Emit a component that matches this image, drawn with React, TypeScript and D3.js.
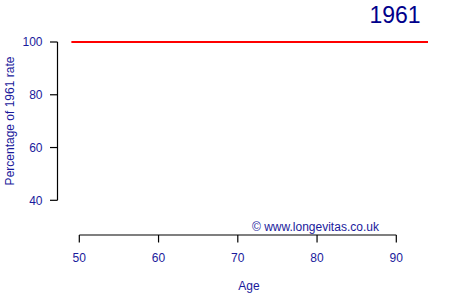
import React from "react";
import * as d3 from "d3";

const ages: number[] = [49, 94];
const values: number[] = [100, 100];
const xTicks: number[] = [50, 60, 70, 80, 90];
const yTicks: number[] = [40, 60, 80, 100];
const title = "1961";
const xLabel = "Age";
const yLabel = "Percentage of 1961 rate";
const credit = "© www.longevitas.co.uk";

const W = 450, H = 300;
const FONT = "'Liberation Sans', Arial, sans-serif";
const TXT = "#1a1a9c";

export default function App() {
  const x = d3.scaleLinear().domain([50, 90]).range([79.3, 396.3]);
  const y = d3.scaleLinear().domain([40, 100]).range([200.3, 42]);
  const line = d3.line<number>().x((_, i) => x(ages[i])).y((d) => y(d));
  const axisY = 235;
  const axisX = 57.5;
  return (
    <svg width={W} height={H} style={{ position: "absolute", left: 0, top: 0 }} fontFamily={FONT}>
      <rect width={W} height={H} fill="white" />
      <text x={395} y={23} fontSize={23} fill="#00008B" textAnchor="middle">{title}</text>
      {/* y axis */}
      <line x1={axisX} x2={axisX} y1={y(100)} y2={y(40)} stroke="black" strokeWidth={1.2} />
      {yTicks.map((t) => (
        <g key={t}>
          <line x1={axisX - 7.5} x2={axisX} y1={y(t)} y2={y(t)} stroke="black" strokeWidth={1.2} />
          <text x={42.5} y={y(t) + 4.3} fontSize={12} fill={TXT} textAnchor="end">{t}</text>
        </g>
      ))}
      {/* x axis */}
      <line x1={x(50)} x2={x(90)} y1={axisY} y2={axisY} stroke="black" strokeWidth={1.2} />
      {xTicks.map((t) => (
        <g key={t}>
          <line x1={x(t)} x2={x(t)} y1={axisY} y2={axisY + 7.5} stroke="black" strokeWidth={1.2} />
          <text x={x(t)} y={262} fontSize={12} fill={TXT} textAnchor="middle">{t}</text>
        </g>
      ))}
      <text x={249} y={290} fontSize={12} fill={TXT} textAnchor="middle">{xLabel}</text>
      <text transform={`translate(13.5,121) rotate(-90)`} fontSize={12} fill={TXT} textAnchor="middle">{yLabel}</text>
      <text x={252} y={231} fontSize={12} fill={TXT} textAnchor="start">{credit}</text>
      <path d={line(values) || ""} fill="none" stroke="#ff0000" strokeWidth={2} />
    </svg>
  );
}
